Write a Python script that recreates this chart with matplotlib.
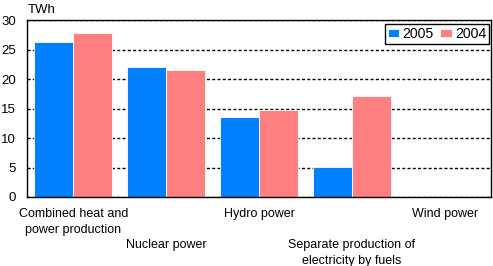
import matplotlib
matplotlib.use('Agg')
import matplotlib.pyplot as plt
import numpy as np

plt.rcParams['font.family'] = ['Liberation Sans', 'DejaVu Sans']

categories = ['Combined heat and\npower production', 'Nuclear power', 'Hydro power',
              'Separate production of\nelectricity by fuels', 'Wind power']
years = ['2005', '2004']
values_2005 = [26.2, 22.1, 13.6, 5.1, 0.0]
values_2004 = [27.8, 21.6, 14.8, 17.2, 0.0]
y_ticks = [0, 5, 10, 15, 20, 25, 30]

blue = '#0080ff'
pink = '#ff8080'

fig = plt.figure(figsize=(4.93, 2.66), dpi=100)
ax = fig.add_axes([0.0548, 0.2594, 0.9412, 0.6654])

x = np.arange(len(categories))
w = 0.42
ax.bar(x - w / 2, values_2005, w, color=blue, edgecolor='white', linewidth=0.6, label=years[0])
ax.bar(x + w / 2, values_2004, w, color=pink, edgecolor='white', linewidth=0.6, label=years[1])

ax.set_xlim(-0.5, len(categories) - 0.5)
ax.set_ylim(0, 30)
ax.set_yticks(y_ticks)
ax.yaxis.grid(True, color='black', linestyle=(0, (2.2, 1.6)), linewidth=1.0)
ax.set_axisbelow(True)

# stagger labels: every second category goes two lines lower
labels = [c if i % 2 == 0 else '\n\n' + c for i, c in enumerate(categories)]
ax.set_xticks(x)
ax.set_xticklabels(labels, fontsize=9, linespacing=1.4)
ax.tick_params(axis='x', length=0, pad=8)
ax.tick_params(axis='y', length=0, pad=8, labelsize=9.5)

for s in ax.spines.values():
    s.set_color('black')
    s.set_linewidth(1.0)

leg = ax.legend(loc='upper right', bbox_to_anchor=(0.996, 0.978), ncol=2, fontsize=10.2,
                handlelength=0.8, handleheight=0.5, handletextpad=0.25, columnspacing=0.45,
                borderpad=0.2, borderaxespad=0, fancybox=False, framealpha=1)
leg.get_frame().set_edgecolor('black')
leg.get_frame().set_linewidth(1.0)

fig.text(0.057, 1 - 10 / 266, 'TWh', fontsize=9.5, va='center', ha='left')

fig.savefig('out.png', dpi=100)
